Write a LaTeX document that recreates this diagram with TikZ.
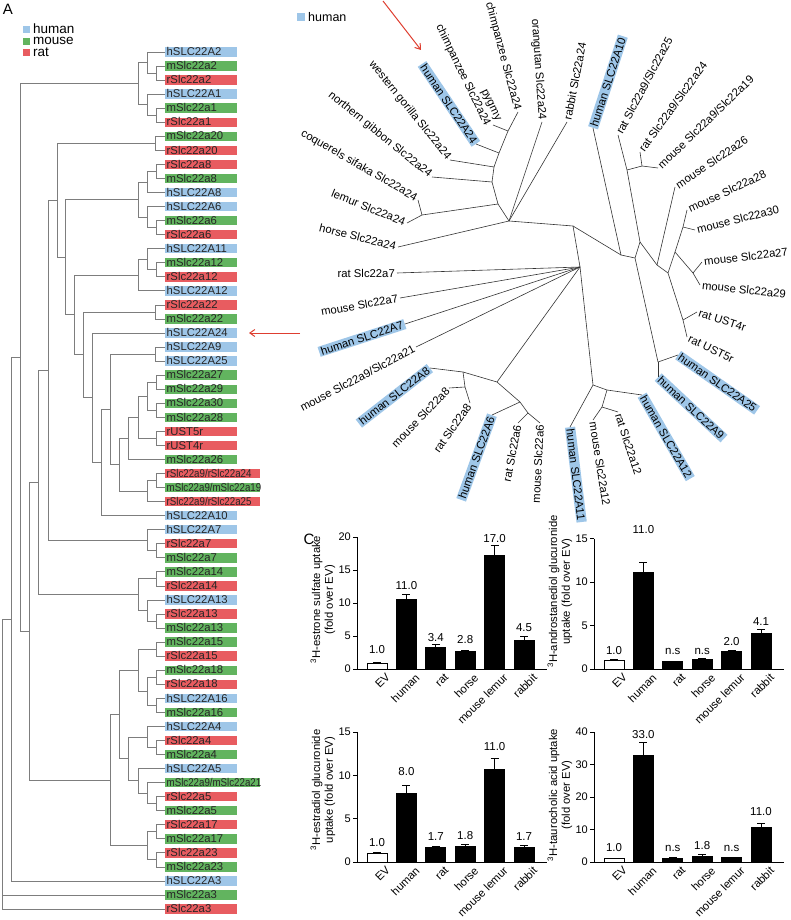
\documentclass[tikz,border=0pt]{standalone}
\usepackage{graphicx}
\usepackage{fontspec}
\setmainfont{Liberation Sans}
\usetikzlibrary{arrows.meta}
\definecolor{hblue}{RGB}{158,198,232}
\definecolor{mgreen}{RGB}{98,180,95}
\definecolor{rred}{RGB}{232,92,96}
\definecolor{arrred}{RGB}{222,62,48}
\definecolor{treegray}{RGB}{125,125,125}

\begin{document}
\begin{tikzpicture}[x=1pt,y=-1pt,
	leaf/.style={anchor=west, fill=#1, text=black!85, inner xsep=1.5pt, inner ysep=0.4pt,
		text height=8pt, text depth=0.6pt, align=left, font=\fontsize{11.3}{12}\selectfont},
	treeline/.style={draw=treegray, line width=0.8pt},
	rlab/.style={inner xsep=2pt, inner ysep=1pt, font=\fontsize{11.3}{12.5}\selectfont},
	hl/.style={fill=hblue},
	rline/.style={draw=black!80, line width=0.6pt},
	redarrow/.style={draw=arrred, line width=1pt, -{Straight Barb[length=5pt,width=7pt]}},
	bar/.style={draw=black, line width=0.8pt},
	errbar/.style={draw=black, line width=0.8pt},
	axisline/.style={draw=black, line width=0.8pt},
	ticklab/.style={anchor=east, inner sep=1pt, font=\fontsize{11}{12}\selectfont},
	vallab/.style={inner sep=1pt, font=\fontsize{11.5}{12}\selectfont},
	xlab/.style={anchor=north east, rotate=45, yshift=-3pt, inner sep=1pt, font=\fontsize{11.3}{12}\selectfont},
	ylab/.style={rotate=90, align=center, inner sep=1pt, font=\fontsize{11.3}{12.8}\selectfont},
	panel/.style={font=\fontsize{15}{16}\selectfont},
	legend/.style={anchor=west, inner sep=1pt, font=\fontsize{13.5}{14}\selectfont}
	]
	
	\useasboundingbox (0,0) rectangle (790,920);
	
	%panel letters
	\node[panel] (pA) at (8,9) {A};
	\node[panel] (pC) at (309,539) {C};
	
	%legend of tree A
	\fill[hblue] (23,26) rectangle (30,33);	\node[legend] (lgh) at (32,29) {human};
	\fill[mgreen] (23,38) rectangle (30,45);	\node[legend] (lgm) at (32,41) {mouse};
	\fill[rred] (23,49) rectangle (30,56);		\node[legend] (lgr) at (32,52) {rat};
	
	%left tree, one row = 14.05px
	\begin{scope}[yshift=-37.95pt, y=-14.05pt]
		\foreach \r/\c/\w/\t in {1/hblue/69/hSLC22A2, 2/mgreen/69/mSlc22a2, 3/rred/69/rSlc22a2,
			4/hblue/69/hSLC22A1, 5/mgreen/69/mSlc22a1, 6/rred/69/rSlc22a1,
			7/mgreen/69/mSlc22a20, 8/rred/69/rSlc22a20, 9/rred/69/rSlc22a8,
			10/mgreen/69/mSlc22a8, 11/hblue/69/hSLC22A8, 12/hblue/69/hSLC22A6,
			13/mgreen/69/mSlc22a6, 14/rred/69/rSlc22a6, 15/hblue/69/hSLC22A11,
			16/mgreen/69/mSlc22a12, 17/rred/69/rSlc22a12, 18/hblue/69/hSLC22A12,
			19/rred/69/rSlc22a22, 20/mgreen/69/mSlc22a22, 21/hblue/69/hSLC22A24,
			22/hblue/69/hSLC22A9, 23/hblue/69/hSLC22A25, 24/mgreen/69/mSlc22a27,
			25/mgreen/69/mSlc22a29, 26/mgreen/69/mSlc22a30, 27/mgreen/69/mSlc22a28,
			28/rred/69/rUST5r, 29/rred/69/rUST4r, 30/mgreen/69/mSlc22a26,
			31/rred/92/{\scalebox{0.86}[1]{rSlc22a9/rSlc22a24}},
			32/mgreen/92/{\scalebox{0.86}[1]{mSlc22a9/mSlc22a19}},
			33/rred/92/{\scalebox{0.86}[1]{rSlc22a9/rSlc22a25}}, 34/hblue/69/hSLC22A10,
			35/hblue/69/hSLC22A7, 36/rred/69/rSlc22a7, 37/mgreen/69/mSlc22a7,
			38/mgreen/69/mSlc22a14, 39/rred/69/rSlc22a14, 40/hblue/69/hSLC22A13,
			41/rred/69/rSlc22a13, 42/mgreen/69/mSlc22a13, 43/mgreen/69/mSlc22a15,
			44/rred/69/rSlc22a15, 45/mgreen/69/mSlc22a18, 46/rred/69/rSlc22a18,
			47/hblue/69/hSLC22A16, 48/mgreen/69/mSlc22a16, 49/hblue/69/hSLC22A4,
			50/rred/69/rSlc22a4, 51/mgreen/69/mSlc22a4, 52/hblue/69/hSLC22A5,
			53/mgreen/92/{\scalebox{0.86}[1]{mSlc22a9/mSlc22a21}}, 54/rred/69/rSlc22a5,
			55/mgreen/69/mSlc22a5,
			56/rred/69/rSlc22a17, 57/mgreen/69/mSlc22a17, 58/rred/69/rSlc22a23,
			59/mgreen/69/mSlc22a23, 60/hblue/69/hSLC22A3, 61/mgreen/69/mSlc22a3,
			62/rred/69/rSlc22a3}
		\node[leaf=\c, text width=\w pt] (L\r) at (165,\r) {\t};
		
		%inner points (x in px, y in rows)
		\coordinate (a2mr) at (156,2.5);		\coordinate (a2) at (147,1.75);
		\coordinate (a1mr) at (156,5.5);		\coordinate (a1) at (147,4.75);
		\coordinate (a12) at (138,3.25);
		\coordinate (a20) at (155,7.5);
		\coordinate (a8mr) at (156,9.5);		\coordinate (a8) at (147,10.25);
		\coordinate (a6mr) at (156,13.5);		\coordinate (a6) at (147,12.75);
		\coordinate (a68) at (138,11.5);
		\coordinate (a12mr) at (156,16.5);	\coordinate (a11) at (147,15.75);
		\coordinate (a1112) at (138,16.875);
		\coordinate (a22) at (155,19.5);
		\coordinate (a925) at (155,22.5);
		\coordinate (m2729) at (156,24.5);	\coordinate (m3028) at (156,26.5);
		\coordinate (n16) at (147,25.5);
		\coordinate (ust) at (156,28.5);
		\coordinate (n15) at (138,27);
		\coordinate (n14) at (128,28.5);
		\coordinate (a9rm) at (156,31.5);		\coordinate (a9) at (147,32.25);
		\coordinate (n13) at (119,30.375);
		\coordinate (n12) at (110,26.44);
		\coordinate (n11) at (101,30.22);
		\coordinate (n10) at (92,25.61);
		\coordinate (n9) at (83,22.55);
		\coordinate (n8) at (74,19.71);
		\coordinate (n7) at (65,15.6);
		\coordinate (n6) at (57,11.55);
		\coordinate (a7rm) at (156,36.5);		\coordinate (a7) at (147,35.75);
		\coordinate (n5) at (48,23.65);
		\coordinate (a14) at (156,38.5);
		\coordinate (a13rm) at (156,41.5);	\coordinate (a13) at (147,40.75);
		\coordinate (a1314) at (138,39.625);
		\coordinate (n4) at (38,31.64);
		\coordinate (a15) at (156,43.5);		\coordinate (a18) at (156,45.5);
		\coordinate (a16) at (156,47.5);		\coordinate (a1618) at (147,46.5);
		\coordinate (a151618) at (138,45);
		\coordinate (a4rm) at (156,50.5);		\coordinate (a4) at (147,49.75);
		\coordinate (a5rm) at (156,54.5);		\coordinate (a5m) at (147,53.75);
		\coordinate (a5) at (138,52.875);
		\coordinate (a45) at (128,51.31);
		\coordinate (a418) at (119,48.16);
		\coordinate (a17) at (156,56.5);		\coordinate (a23) at (156,58.5);
		\coordinate (a1723) at (147,57.5);
		\coordinate (slc4) at (110,52.83);
		\coordinate (n3) at (29,42.24);
		\coordinate (n2) at (20,22.74);
		\coordinate (n1) at (11,41.37);
		\coordinate (root) at (2.5,50);
		
		\foreach \p/\c in {a2mr/L2.west, a2mr/L3.west, a2/L1.west, a2/a2mr,
			a1mr/L5.west, a1mr/L6.west, a1/L4.west, a1/a1mr, a12/a2, a12/a1,
			a20/L7.west, a20/L8.west,
			a8mr/L9.west, a8mr/L10.west, a8/a8mr, a8/L11.west,
			a6mr/L13.west, a6mr/L14.west, a6/L12.west, a6/a6mr, a68/a8, a68/a6,
			a12mr/L16.west, a12mr/L17.west, a11/L15.west, a11/a12mr, a1112/a11, a1112/L18.west,
			a22/L19.west, a22/L20.west, a925/L22.west, a925/L23.west,
			m2729/L24.west, m2729/L25.west, m3028/L26.west, m3028/L27.west,
			n16/m2729, n16/m3028, ust/L28.west, ust/L29.west, n15/n16, n15/ust,
			n14/n15, n14/L30.west,
			a9rm/L31.west, a9rm/L32.west, a9/a9rm, a9/L33.west,
			n13/n14, n13/a9, n12/a925, n12/n13, n11/n12, n11/L34.west,
			n10/L21.west, n10/n11, n9/a22, n9/n10, n8/a1112, n8/n9,
			n7/a68, n7/n8, n6/a20, n6/n7,
			a7rm/L36.west, a7rm/L37.west, a7/L35.west, a7/a7rm, n5/n6, n5/a7,
			a14/L38.west, a14/L39.west, a13rm/L41.west, a13rm/L42.west,
			a13/L40.west, a13/a13rm, a1314/a14, a1314/a13, n4/n5, n4/a1314,
			a15/L43.west, a15/L44.west, a18/L45.west, a18/L46.west,
			a16/L47.west, a16/L48.west, a1618/a18, a1618/a16, a151618/a15, a151618/a1618,
			a4rm/L50.west, a4rm/L51.west, a4/L49.west, a4/a4rm,
			a5rm/L54.west, a5rm/L55.west, a5m/L53.west, a5m/a5rm, a5/L52.west, a5/a5m,
			a45/a4, a45/a5, a418/a151618, a418/a45,
			a17/L56.west, a17/L57.west, a23/L58.west, a23/L59.west, a1723/a17, a1723/a23,
			slc4/a418, slc4/a1723, n3/n4, n3/slc4, n2/a12, n2/n3,
			n1/n2, n1/L60.west, root/n1, root/L61.west, root/L62.west}
		\draw[treeline] (\p) |- (\c);
	\end{scope}
	
	%arrow to hSLC22A24
	\coordinate (arrL0) at (300,333);	\coordinate (arrL1) at (249,333);
	\draw[redarrow] (arrL0) -- (arrL1);
	
	%legend of tree B
	\fill[hblue] (297,13) rectangle (305,21);
	\node[legend, font=\fontsize{12.5}{13}\selectfont] (lgb) at (307,17) {human};
	
	%radial tree: inner points
	\coordinate (q1) at (508,131);	\coordinate (q2) at (499,153);
	\coordinate (q3) at (494,167);	\coordinate (q4) at (492,182);
	\coordinate (lem) at (422,215);	\coordinate (q5) at (498,204);
	\coordinate (p1) at (509,221);	\coordinate (p2) at (573,226);
	\coordinate (h7) at (580,267);
	\coordinate (t1) at (621,255);	\coordinate (t2) at (635,258);
	\coordinate (t3) at (640,242);	\coordinate (hk) at (658,362);
	\coordinate (r9) at (627,170);	\coordinate (r9b) at (642,166);
	\coordinate (t4) at (657,265);	\coordinate (t5) at (668,273);
	\coordinate (u) at (683,320);		\coordinate (m1) at (675,252);
	\coordinate (m2830) at (683,227);	\coordinate (m2729) at (693,273);
	\coordinate (k) at (593,385);		\coordinate (k2) at (607,390);
	\coordinate (k3) at (602,407);
	\coordinate (j) at (497,382);		\coordinate (j8) at (463,372);
	\coordinate (j8b) at (465,387);	\coordinate (j6) at (520,402);
	\coordinate (j6b) at (528,413);
	
	%radial tree: leaves, left half
	\node[rlab, hl, rotate=-56, anchor=east] (hA24) at (476,144) {human SLC22A24};
	\node[rlab, align=right, rotate=-64, anchor=east] (pygmy) at (493,125) {pygmy\\chimpanzee Slc22a24};
	\node[rlab, rotate=-75, anchor=east] (chimp) at (518,112) {chimpanzee Slc22a24};
	\node[rlab, rotate=-51, anchor=east] (gorilla) at (450,160) {western gorilla Slc22a24};
	\node[rlab, rotate=-39, anchor=east] (gibbon) at (432,177) {northern gibbon Slc22a24};
	\node[rlab, rotate=-30, anchor=east] (sifaka) at (418,200) {coquerels sifaka Slc22a24};
	\node[rlab, rotate=-22, anchor=east] (lemur) at (407,223) {lemur Slc22a24};
	\node[rlab, rotate=-14, anchor=east] (horse) at (398,247) {horse Slc22a24};
	\node[rlab, rotate=-86, anchor=east] (orang) at (542,122) {orangutan Slc22a24};
	\node[rlab, rotate=0, anchor=east] (r7) at (397,273) {rat Slc22a7};
	\node[rlab, rotate=10, anchor=east] (m7) at (400,298) {mouse Slc22a7};
	\node[rlab, hl, rotate=18, anchor=east] (hA7) at (405,324) {human SLC22A7};
	\node[rlab, rotate=28, anchor=east] (m9a21) at (416,347) {mouse Slc22a9/Slc22a21};
	\node[rlab, hl, rotate=38, anchor=east] (hA8) at (430,368) {human SLC22A8};
	\node[rlab, rotate=46, anchor=east] (m8) at (449,388) {mouse Slc22a8};
	\node[rlab, rotate=55, anchor=east] (r8) at (470,403) {rat Slc22a8};
	\node[rlab, hl, rotate=70, anchor=east] (hA6) at (492,415) {human SLC22A6};
	\node[rlab, rotate=79, anchor=east] (r6) at (518,423) {rat Slc22a6};
	\node[rlab, rotate=87, anchor=east] (m6) at (540,423) {mouse Slc22a6};
	
	%radial tree: leaves, right half
	\node[rlab, rotate=79, anchor=west] (rabbit) at (567,122) {rabbit Slc22a24};
	\node[rlab, hl, rotate=72, anchor=west] (hA10) at (593,128) {human SLC22A10};
	\node[rlab, rotate=62, anchor=west] (r9a25) at (618,135) {rat Slc22a9/Slc22a25};
	\node[rlab, rotate=54, anchor=west] (r9a24) at (640,152) {rat Slc22a9/Slc22a24};
	\node[rlab, rotate=44, anchor=west] (m9a19) at (658,168) {mouse Slc22a9/Slc22a19};
	\node[rlab, rotate=34, anchor=west] (m26) at (675,187) {mouse Slc22a26};
	\node[rlab, rotate=25, anchor=west] (m28) at (687,210) {mouse Slc22a28};
	\node[rlab, rotate=14, anchor=west] (m30) at (695,230) {mouse Slc22a30};
	\node[rlab, rotate=7, anchor=west] (m27) at (702,262) {mouse Slc22a27};
	\node[rlab, rotate=-6, anchor=west] (m29) at (700,285) {mouse Slc22a29};
	\node[rlab, rotate=-18, anchor=west] (ust4) at (697,312) {rat UST4r};
	\node[rlab, rotate=-26, anchor=west] (ust5) at (687,337) {rat UST5r};
	\node[rlab, hl, rotate=-35, anchor=west] (hA25) at (678,355) {human SLC22A25};
	\node[rlab, hl, rotate=-43, anchor=west] (hA9) at (658,377) {human SLC22A9};
	\node[rlab, hl, rotate=-60, anchor=west] (hA12) at (642,395) {human SLC22A12};
	\node[rlab, rotate=-72, anchor=west] (r12) at (618,412) {rat Slc22a12};
	\node[rlab, rotate=-81, anchor=west] (m12) at (593,420) {mouse Slc22a12};
	\node[rlab, hl, rotate=-83, anchor=west] (hA11) at (570,427) {human SLC22A11};
	
	%radial tree: branches
	\foreach \a/\b in {q1/chimp.east, q1/pygmy.east, q2/q1, q2/hA24.east,
		q3/q2, q3/gorilla.east, q4/q3, q4/gibbon.east,
		lem/sifaka.east, lem/lemur.east, q5/q4, q5/lem,
		p1/q5, p1/horse.east, p1/orang.east, p1/rabbit.west, p1/p2,
		p2/h7, p2/t1, t1/hA10.west, t1/t2, t2/t3, t2/hk,
		hk/hA9.west, hk/hA25.west, t3/r9, t3/t4,
		r9/r9a25.west, r9/r9b, r9b/r9a24.west, r9b/m9a19.west,
		t4/m26.west, t4/t5, t5/u, t5/m1, u/ust5.west, u/ust4.west,
		m1/m2830, m1/m2729, m2830/m28.west, m2830/m30.west,
		m2729/m27.west, m2729/m29.west,
		h7/r7.east, h7/m7.east, h7/hA7.east, h7/m9a21.east, h7/j, h7/k,
		k/hA11.west, k/k2, k2/hA12.west, k2/k3, k3/m12.west, k3/r12.west,
		j/j8, j/j6, j8/hA8.east, j8/j8b, j8b/m8.east, j8b/r8.east,
		j6/hA6.east, j6/j6b, j6b/r6.east, j6b/m6.east}
	\draw[rline] (\a) -- (\b);
	
	%arrow to human SLC22A24
	\coordinate (arrT0) at (383,1);	\coordinate (arrT1) at (421,50);
	\draw[redarrow] (arrT0) -- (arrT1);
	
	%chart 1: estrone sulfate
	\begin{scope}[shift={(357,669)}, y=6.6pt]
		\draw[axisline] (0,20) -- (0,0) -- (190,0);
		\foreach \tk in {0,5,10,15,20}{
			\draw[axisline] (-4,\tk) -- (0,\tk);
			\node[ticklab] (cat\tk) at (-5,\tk) {\tk};}
		\foreach \i/\f/\v/\e/\t/\ly/\nm in {0/white/0.9/1.0/1.0/2.9/EV, 1/black/10.5/11.3/11.0/12.7/human,
			2/black/3.3/3.8/3.4/4.7/rat, 3/black/2.7/2.85/2.8/4.4/horse,
			4/black/17.2/18.7/17.0/19.8/mouse lemur, 5/black/4.4/4.9/4.5/6.2/rabbit}{
			\pgfmathsetmacro\xc{20+29.4*\i}
			\draw[bar, fill=\f] (\xc-10,0) rectangle (\xc+10,\v);
			\draw[errbar] (\xc,\v) -- (\xc,\e) (\xc-4,\e) -- (\xc+4,\e);
			\node[vallab] (cav\i) at (\xc,\ly) {\t};
			\node[xlab] (cax\i) at (\xc+6,0) {\nm};}
		\node[ylab] (cay) at (-34,10.5) {\textsuperscript{3}H-estrone sulfate uptake\\(fold over EV)};
	\end{scope}
	
	%chart 2: androstanediol glucuronide
	\begin{scope}[shift={(594,669)}, y=8.7pt]
		\draw[axisline] (0,15) -- (0,0) -- (190,0);
		\foreach \tk in {0,5,10,15}{
			\draw[axisline] (-4,\tk) -- (0,\tk);
			\node[ticklab] (cbt\tk) at (-5,\tk) {\tk};}
		\foreach \i/\f/\v/\e/\t/\ly/\nm in {0/white/0.95/1.05/1.0/2.07/EV, 1/black/11.1/12.3/11.0/16.0/human,
			2/black/0.85/0.9/n.s/2.07/rat, 3/black/1.15/1.25/n.s/2.07/horse,
			4/black/2.0/2.15/2.0/3.2/mouse lemur, 5/black/4.1/4.5/4.1/5.5/rabbit}{
			\pgfmathsetmacro\xc{20+29.4*\i}
			\draw[bar, fill=\f] (\xc-10,0) rectangle (\xc+10,\v);
			\draw[errbar] (\xc,\v) -- (\xc,\e) (\xc-4,\e) -- (\xc+4,\e);
			\node[vallab] (cbv\i) at (\xc,\ly) {\t};
			\node[xlab] (cbx\i) at (\xc+6,0) {\nm};}
		\node[ylab] (cby) at (-34,8.9) {\textsuperscript{3}H-androstanediol glucuronide\\uptake (fold over EV)};
	\end{scope}
	
	%chart 3: estradiol glucuronide
	\begin{scope}[shift={(357,862)}, y=8.67pt]
		\draw[axisline] (0,15) -- (0,0) -- (190,0);
		\foreach \tk in {0,5,10,15}{
			\draw[axisline] (-4,\tk) -- (0,\tk);
			\node[ticklab] (cct\tk) at (-5,\tk) {\tk};}
		\foreach \i/\f/\v/\e/\t/\ly/\nm in {0/white/1.0/1.1/1.0/2.2/EV, 1/black/7.9/8.8/8.0/10.4/human,
			2/black/1.65/1.8/1.7/2.9/rat, 3/black/1.85/2.05/1.8/3.1/horse,
			4/black/10.7/12.0/11.0/13.3/mouse lemur, 5/black/1.7/1.9/1.7/2.9/rabbit}{
			\pgfmathsetmacro\xc{20+29.4*\i}
			\draw[bar, fill=\f] (\xc-10,0) rectangle (\xc+10,\v);
			\draw[errbar] (\xc,\v) -- (\xc,\e) (\xc-4,\e) -- (\xc+4,\e);
			\node[vallab] (ccv\i) at (\xc,\ly) {\t};
			\node[xlab] (ccx\i) at (\xc+6,0) {\nm};}
		\node[ylab] (ccy) at (-34,8.3) {\textsuperscript{3}H-estradiol glucuronide\\uptake (fold over EV)};
	\end{scope}
	
	%chart 4: taurocholic acid
	\begin{scope}[shift={(594,862)}, y=3.25pt]
		\draw[axisline] (0,40) -- (0,0) -- (190,0);
		\foreach \tk in {0,10,20,30,40}{
			\draw[axisline] (-4,\tk) -- (0,\tk);
			\node[ticklab] (cdt\tk) at (-5,\tk) {\tk};}
		\foreach \i/\f/\v/\e/\t/\ly/\nm in {0/white/1.0/1.2/1.0/4.3/EV, 1/black/32.8/36.8/33.0/39.1/human,
			2/black/1.0/1.3/n.s/4.3/rat, 3/black/1.8/2.2/1.8/5.2/horse,
			4/black/1.3/1.5/n.s/4.3/mouse lemur, 5/black/10.6/12.0/11.0/15.4/rabbit}{
			\pgfmathsetmacro\xc{20+29.4*\i}
			\draw[bar, fill=\f] (\xc-10,0) rectangle (\xc+10,\v);
			\draw[errbar] (\xc,\v) -- (\xc,\e) (\xc-4,\e) -- (\xc+4,\e);
			\node[vallab] (cdv\i) at (\xc,\ly) {\t};
			\node[xlab] (cdx\i) at (\xc+6,0) {\nm};}
		\node[ylab] (cdy) at (-34,20.6) {\textsuperscript{3}H-taurocholic acid uptake\\(fold over EV)};
	\end{scope}
	
\end{tikzpicture}
\end{document}
